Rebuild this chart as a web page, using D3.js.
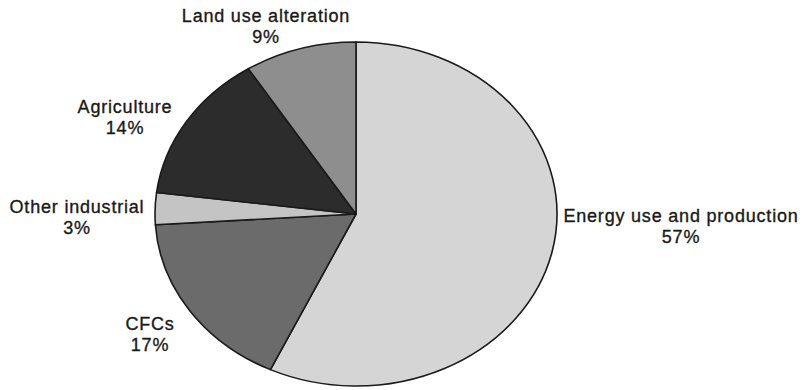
<!DOCTYPE html>
<html>
<head>
<meta charset="utf-8">
<script src="https://cdn.jsdelivr.net/npm/d3@7/dist/d3.min.js"></script>
<style>
  html, body { margin: 0; padding: 0; background: #fff; }
  svg text { font-family: "Liberation Sans", Arial, Helvetica, sans-serif; fill: #1a1a1a; stroke: #1a1a1a; stroke-width: 0.35px; }
</style>
</head>
<body>
<svg id="chart" width="806" height="390"></svg>
<script>
// Sources of greenhouse gas emissions, share of total (%)
const categories = ["Energy use and production", "CFCs", "Other industrial", "Agriculture", "Land use alteration"];
const shares = [57, 17, 3, 14, 9];
const fills = ["#d5d5d5", "#6b6b6b", "#c4c4c4", "#2c2c2c", "#8e8e8e"];

// Label anchors (centre of the two-line label block, first baseline)
const labelAnchors = [[681, 222], [150, 330], [77, 213], [125, 113], [266, 22]];

const width = 806, height = 390;
const cx = 356, cy = 214, rx = 201, ry = 172;

const svg = d3.select("#chart");

const pie = d3.pie().sort(null).value(d => d.value);
const arc = d3.arc().innerRadius(0).outerRadius(ry);

const data = categories.map((c, i) => ({ name: c, value: shares[i], fill: fills[i] }));

// The pie is drawn as a circle and stretched horizontally into an ellipse
const g = svg.append("g")
  .attr("transform", `translate(${cx},${cy}) scale(${rx / ry},1)`);

g.selectAll("path")
  .data(pie(data))
  .join("path")
  .attr("d", arc)
  .attr("fill", d => d.data.fill)
  .attr("stroke", "#1a1a1a")
  .attr("stroke-width", 1.6)
  .attr("stroke-linejoin", "round")
  .attr("vector-effect", "non-scaling-stroke");

const labels = svg.append("g");
data.forEach((d, i) => {
  const [lx, ly] = labelAnchors[i];
  const t = labels.append("text")
    .attr("x", lx).attr("y", ly)
    .attr("text-anchor", "middle")
    .attr("font-size", 18)
    .attr("letter-spacing", 0.8);
  t.append("tspan").attr("x", lx).text(d.name);
  t.append("tspan").attr("x", lx).attr("dy", 21).text(d.value + "%");
});
</script>
</body>
</html>
